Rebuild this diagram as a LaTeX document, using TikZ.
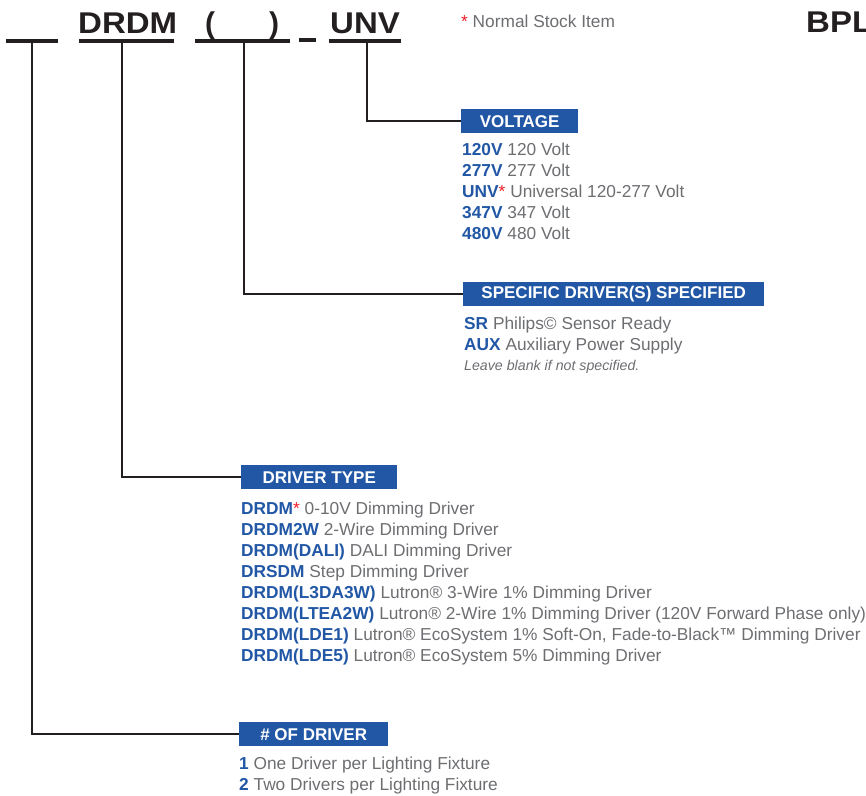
\documentclass[tikz,border=0pt]{standalone}
\usepackage{fontspec}
\setmainfont{Liberation Sans}
\definecolor{hdr}{HTML}{231F20}
\definecolor{bl}{HTML}{2157A5}
\definecolor{gr}{HTML}{6D6E71}
\definecolor{rd}{HTML}{ED1C24}
\newcommand{\kw}[1]{\textbf{\color{bl}#1}}
\newcommand{\rs}{{\color{rd}*}}
\begin{document}
\begin{tikzpicture}[x=1pt,y=-1pt,
  li/.style={anchor=base west, inner sep=0, text=gr, font=\fontsize{17.3}{20}\selectfont},
  note/.style={anchor=base west, inner sep=0, text=gr, font=\fontsize{14.2}{16}\selectfont\itshape},
  hd/.style={anchor=base west, inner sep=0, text=hdr, font=\fontsize{30}{34}\selectfont\bfseries},
  ul/.style={line width=4pt, draw=hdr},
  conn/.style={line width=2pt, draw=hdr},
  box/.style={anchor=north west, fill=bl, text=white, inner sep=0, font=\fontsize{17}{18}\selectfont\bfseries, minimum height=24pt}]
\useasboundingbox (0,0) rectangle (866,795);

% header
\node[hd] (tdrdm) at (78,33) {\scalebox{1.1}[1]{DRDM}};
\node[hd] (tpo) at (205,33) {(};
\node[hd] (tpc) at (269,33) {)};
\node[hd] (tunv) at (330,33) {\scalebox{1.1}[1]{UNV}};
\node[hd] (tbpl) at (806,32) {\scalebox{1.1}[1]{BPL}};
\node[li] (stock) at (461,27) {\rs\ Normal Stock Item};

\draw[ul] (6,41) -- (58,41);
\draw[ul] (79,41) -- (174,41);
\draw[ul] (195,41) -- (290,41);
\draw[ul] (299,39.5) -- (316,39.5);
\draw[ul] (329,41) -- (401,41);

\coordinate (s1) at (32,41);
\coordinate (s2) at (122,41);
\coordinate (s3) at (244,41);
\coordinate (s4) at (367,41);

% boxes
\node[box, minimum width=117pt] (bvolt) at (461,109) {VOLTAGE};
\node[box, minimum width=301pt] (bspec) at (463,282) {SPECIFIC DRIVER(S) SPECIFIED};
\node[box, minimum width=156pt] (btype) at (241,465) {DRIVER TYPE};
\node[box, minimum width=149pt] (bnum) at (239,722) {\# OF DRIVER};

% connectors
\draw[conn] (s4) |- (bvolt.west);
\draw[conn] (s3) |- (bspec.west);
\draw[conn] (s2) |- (btype.west);
\draw[conn] (s1) |- (bnum.west);

% voltage
\node[li] (v1) at (462,155) {\kw{120V} 120 Volt};
\node[li] (v2) at (462,176) {\kw{277V} 277 Volt};
\node[li] (v3) at (462,197) {\kw{UNV}\rs\ Universal 120-277 Volt};
\node[li] (v4) at (462,218) {\kw{347V} 347 Volt};
\node[li] (v5) at (462,239) {\kw{480V} 480 Volt};

% specific
\node[li] (p1) at (464,329) {\kw{SR} Philips© Sensor Ready};
\node[li] (p2) at (464,350) {\kw{AUX} Auxiliary Power Supply};
\node[note] (p3) at (464,370) {Leave blank if not specified.};

% driver type
\node[li] (d1) at (241,514) {\kw{DRDM}\rs\ 0-10V Dimming Driver};
\node[li] (d2) at (241,535) {\kw{DRDM2W} 2-Wire Dimming Driver};
\node[li] (d3) at (241,556) {\kw{DRDM(DALI)} DALI Dimming Driver};
\node[li] (d4) at (241,577) {\kw{DRSDM} Step Dimming Driver};
\node[li] (d5) at (241,598) {\kw{DRDM(L3DA3W)} Lutron® 3-Wire 1\% Dimming Driver};
\node[li] (d6) at (241,619) {\kw{DRDM(LTEA2W)} Lutron® 2-Wire 1\% Dimming Driver (120V Forward Phase only)};
\node[li] (d7) at (241,640) {\kw{DRDM(LDE1)} Lutron® EcoSystem 1\% Soft-On, Fade-to-Black™ Dimming Driver};
\node[li] (d8) at (241,661) {\kw{DRDM(LDE5)} Lutron® EcoSystem 5\% Dimming Driver};

% number
\node[li] (n1) at (239,769) {\kw{1} One Driver per Lighting Fixture};
\node[li] (n2) at (239,790) {\kw{2} Two Drivers per Lighting Fixture};
\end{tikzpicture}
\end{document}
